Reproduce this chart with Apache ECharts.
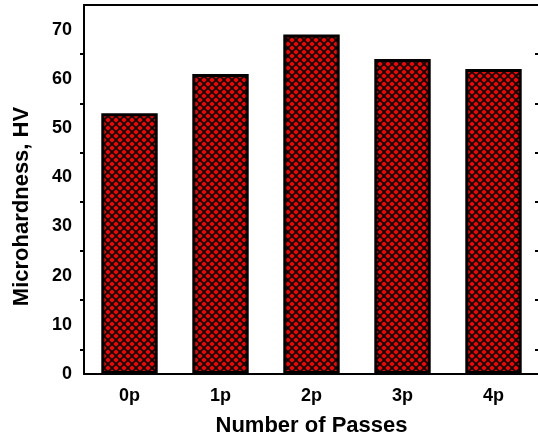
<!DOCTYPE html>
<html>
<head>
<meta charset="utf-8">
<script src="https://cdn.jsdelivr.net/npm/echarts@6/dist/echarts.min.js"></script>
<style>
    html, body { margin: 0; padding: 0; background: #fff; }
    #chart { width: 538px; height: 438px; }
</style>
</head>
<body>
<div id="chart"></div>
<script>
// data
const passes = ["0p", "1p", "2p", "3p", "4p"]
const hardness = [53, 61, 69, 64, 62]

// red fill with black cross-hatch, like the origin plot
function hatchPattern() {
    const c = document.createElement("canvas")
    c.width = 8
    c.height = 8
    const ctx = c.getContext("2d")
    ctx.fillStyle = "#ff0000"
    ctx.fillRect(0, 0, 8, 8)
    ctx.strokeStyle = "#000"
    ctx.lineWidth = 1.8
    ctx.beginPath()
    ctx.moveTo(-1, -1); ctx.lineTo(9, 9)
    ctx.moveTo(9, -1); ctx.lineTo(-1, 9)
    ctx.stroke()
    return c
}

const font = "Liberation Sans, Arial, sans-serif"
const axisLine = { show: true, lineStyle: { color: "#000", width: 2 } }
const tickLabel = { fontFamily: font, fontWeight: "bold", fontSize: 18, color: "#000" }
const axisName = { fontFamily: font, fontWeight: "bold", fontSize: 22, color: "#000" }

const chart = echarts.init(document.getElementById("chart"), null, { renderer: "canvas" })

chart.setOption({
    backgroundColor: "#fff",
    animation: false,
    grid: { left: 84, right: -1, top: 5, bottom: 64, outerBoundsMode: "none" },
    xAxis: [
        {
            // bottom axis, ticks at categories
            type: "category",
            data: passes,
            position: "bottom",
            name: "Number of Passes",
            nameLocation: "middle",
            nameGap: 41,
            nameTextStyle: axisName,
            axisLine: axisLine,
            axisTick: { alignWithLabel: true, length: 7, lineStyle: { color: "#000", width: 2 } },
            axisLabel: Object.assign({ margin: 13 }, tickLabel),
        },
        {
            // bottom axis, small ticks between categories
            type: "category",
            data: passes,
            position: "bottom",
            axisLine: { show: false },
            axisTick: { length: 4, lineStyle: { color: "#000", width: 2 } },
            axisLabel: { show: false },
        },
        {
            // top frame, short ticks at categories
            type: "category",
            data: passes,
            position: "top",
            axisLine: axisLine,
            axisTick: { alignWithLabel: true, inside: true, length: 4, lineStyle: { color: "#000", width: 2 } },
            axisLabel: { show: false },
        },
        {
            // top frame, long ticks between categories
            type: "category",
            data: passes,
            position: "top",
            axisLine: { show: false },
            axisTick: { inside: true, length: 7, lineStyle: { color: "#000", width: 2 } },
            axisLabel: { show: false },
        },
    ],
    yAxis: [
        {
            type: "value",
            min: 0,
            max: 75,
            interval: 10,
            name: "Microhardness, HV",
            nameLocation: "middle",
            nameGap: 51,
            // the title sits a little below the middle in the original
            nameTextStyle: Object.assign({ padding: [0, 34, 0, 0] }, axisName),
            axisLine: axisLine,
            axisTick: { length: 7, lineStyle: { color: "#000", width: 2 } },
            minorTick: { show: true, splitNumber: 2, length: 4, lineStyle: { color: "#000", width: 2 } },
            axisLabel: Object.assign({ margin: 12, showMaxLabel: false }, tickLabel),
            splitLine: { show: false },
        },
        {
            // right frame
            type: "value",
            min: 0,
            max: 75,
            interval: 10,
            position: "right",
            axisLine: axisLine,
            axisTick: { inside: true, length: 7, lineStyle: { color: "#000", width: 2 } },
            minorTick: { show: true, splitNumber: 2, length: 4, lineStyle: { color: "#000", width: 2 } },
            axisLabel: { show: false },
            splitLine: { show: false },
        },
    ],
    series: [
        {
            type: "bar",
            data: hardness,
            xAxisIndex: 0,
            yAxisIndex: 0,
            barWidth: "62%",
            itemStyle: {
                color: { image: hatchPattern(), repeat: "repeat" },
                borderColor: "#000",
                borderWidth: 3,
            },
        },
    ],
})
</script>
</body>
</html>
